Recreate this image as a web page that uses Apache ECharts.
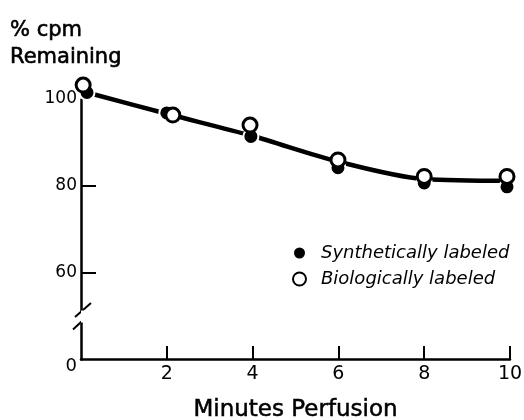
<!DOCTYPE html>
<html>
<head>
<meta charset="utf-8">
<script src="https://cdn.jsdelivr.net/npm/echarts@6/dist/echarts.min.js"></script>
<style>html,body{margin:0;padding:0;background:#fff;}#c{width:524px;height:420px;}</style>
</head>
<body>
<div id="c"></div>
<script>
// Data
const synthX = [0.14, 2.0, 3.96, 5.99, 8.0, 9.93];
const synthY = [101.5, 96.8, 91.4, 84.2, 80.7, 79.8];
const bioX = [0.05, 2.14, 3.94, 5.99, 8.0, 9.93];
const bioY = [103.2, 96.3, 94.0, 86.0, 82.2, 82.2];
const fitX = [0.14, 2, 4, 6, 8, 9.93];
const fitY = [101.5, 96.6, 91.5, 85.6, 81.6, 81.2];
const xTicks = [2, 4, 6, 8, 10];
const yLabelValues = [0, 60, 80, 100];
const yTickValues = [60, 80];
const seriesNames = ['Synthetically labeled', 'Biologically labeled'];
const yBreak = { start: 8.4, end: 51.5, gap: 2.87 };

const pairs = (xs, ys) => xs.map((x, i) => [x, ys[i]]);
const FONT = 'DejaVu Sans';

const chart = echarts.init(document.getElementById('c'), null, { renderer: 'canvas' });
const option = {
  animation: false,
  backgroundColor: '#fff',
  title: {
    text: '% cpm\nRemaining',
    left: 5, top: 12,
    textStyle: { fontFamily: FONT, fontSize: 21, fontWeight: 'normal', color: '#000', lineHeight: 27,
      textBorderColor: '#000', textBorderWidth: 0.6 }
  },
  legend: {
    orient: 'vertical',
    left: 287, top: 239,
    itemGap: 8,
    itemWidth: 13, itemHeight: 13,
    data: seriesNames.map(n => ({ name: n, icon: 'circle' })),
    textStyle: { fontFamily: FONT, fontSize: 18, fontStyle: 'italic', color: '#000', padding: [0, 0, 0, 10] }
  },
  grid: { left: 81, right: 14, top: 99, bottom: 61, outerBoundsMode: 'none', containLabel: false },
  xAxis: {
    type: 'value', min: 0, max: 10, interval: 2,
    name: 'Minutes Perfusion', nameLocation: 'middle', nameGap: 40,
    nameTextStyle: { fontFamily: FONT, fontSize: 23, color: '#000', textBorderColor: '#000', textBorderWidth: 0.5 },
    axisLine: { lineStyle: { color: '#000', width: 2.5 } },
    axisTick: { inside: true, length: 13, lineStyle: { color: '#000', width: 2 }, customValues: xTicks },
    axisLabel: { margin: 6, fontFamily: FONT, fontSize: 19, color: '#000', customValues: xTicks, hideOverlap: false },
    splitLine: { show: false }
  },
  yAxis: {
    type: 'value', min: 0, max: 100,
    breaks: [yBreak],
    breakArea: { show: true, expandOnClick: false, zigzagAmplitude: 0,
      itemStyle: { color: '#fff', borderColor: '#fff', borderWidth: 0, opacity: 1 } },
    axisLine: { show: true, lineStyle: { color: '#000', width: 2.5 } },
    axisTick: { show: true, inside: true, length: 15, lineStyle: { color: '#000', width: 2 }, customValues: yTickValues },
    axisLabel: { margin: 4, fontFamily: FONT, fontSize: 17, color: '#000', customValues: yLabelValues,
      formatter: v => (v === 0 ? '{z|0}' : String(v)),
      rich: { z: { fontFamily: FONT, fontSize: 18, color: '#000', padding: [14, 0, 0, 0] } } },
    splitLine: { show: false }
  },
  series: [
    {
      name: 'fit', type: 'line', data: pairs(fitX, fitY), smooth: 0.3, showSymbol: false, clip: false,
      lineStyle: { color: '#000', width: 4.5 }, z: 2, silent: true
    },
    {
      name: seriesNames[0], type: 'scatter', data: pairs(synthX, synthY), symbol: 'circle', symbolSize: 15, clip: false,
      itemStyle: { color: '#000', borderColor: '#fff', borderWidth: 2, opacity: 1 }, z: 3
    },
    {
      name: seriesNames[1], type: 'scatter', data: pairs(bioX, bioY), symbol: 'circle', symbolSize: 14, clip: false,
      itemStyle: { color: '#fff', borderColor: '#000', borderWidth: 3, opacity: 1 }, z: 4
    }
  ]
};
chart.setOption(option);

// axis break marks ("//") tied to the axis scale
const px = chart.convertToPixel({ xAxisIndex: 0 }, 0);
const yTop = chart.convertToPixel({ yAxisIndex: 0 }, yBreak.end);
const yBot = chart.convertToPixel({ yAxisIndex: 0 }, yBreak.start);
chart.setOption({
  graphic: [
    { type: 'line', shape: { x1: px - 6, y1: yTop + 7, x2: px + 10, y2: yTop - 7 }, style: { stroke: '#000', lineWidth: 2 }, z: 10 },
    { type: 'line', shape: { x1: px - 8, y1: yBot + 7, x2: px + 7, y2: yBot - 7 }, style: { stroke: '#000', lineWidth: 2 }, z: 10 }
  ]
});
</script>
</body>
</html>
